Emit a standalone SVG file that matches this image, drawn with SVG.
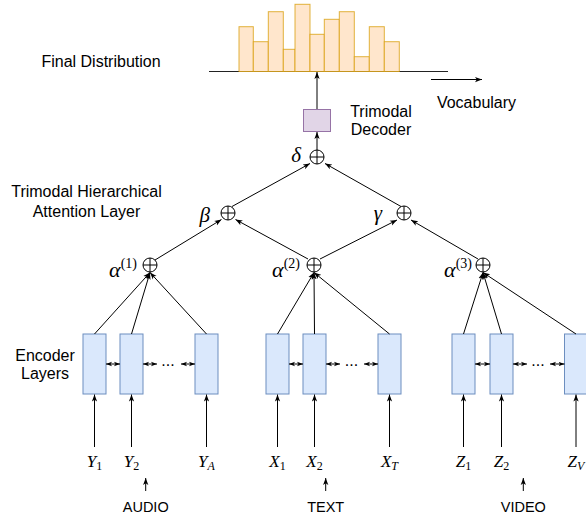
<svg xmlns="http://www.w3.org/2000/svg" width="586" height="519" viewBox="0 0 586 519">
<style>
.lbl{font-family:"Liberation Sans",Arial,sans-serif;font-size:16px;fill:#000}
.mod{font-family:"Liberation Sans",Arial,sans-serif;font-size:14.5px;fill:#000}
.math{font-family:"Liberation Serif","DejaVu Serif",serif;font-style:italic;fill:#000}
.sub{font-style:normal;font-size:12px}
.sup{font-style:normal;font-size:14px}
.bar{fill:#ffe6cc;stroke:#d79b00;stroke-opacity:.75;stroke-width:1}
.enc{fill:#dae8fc;stroke:#6c8ebf;stroke-width:1}
.dec{fill:#e1d5e7;stroke:#9673a6;stroke-width:1}
.op{fill:#fff;stroke:#000;stroke-width:1}
.cross{fill:none;stroke:#000;stroke-width:1}
.edge{fill:none;stroke:#000;stroke-width:1;marker-end:url(#ah)}
.bi{fill:none;stroke:#000;stroke-width:1;marker-end:url(#sh);marker-start:url(#sh)}
.plain{fill:none;stroke:#222;stroke-width:1}
</style>
<defs>
<marker id="ah" viewBox="0 0 8 8" refX="8" refY="4" markerWidth="7" markerHeight="7" markerUnits="userSpaceOnUse" orient="auto-start-reverse"><path d="M0,1 L8,4 L0,7 L2,4 Z" fill="#000"/></marker>
<marker id="sh" viewBox="0 0 8 8" refX="8" refY="4" markerWidth="6" markerHeight="6" markerUnits="userSpaceOnUse" orient="auto-start-reverse"><path d="M0,1 L8,4 L0,7 L2,4 Z" fill="#000"/></marker>
</defs>
<rect width="586" height="519" fill="#fff"/>

<g id="final-distribution">
<line class="plain" x1="209" y1="71.5" x2="448" y2="71.5"/>
<rect class="bar" x="239" y="26.7" width="14.3" height="44.8"/>
<rect class="bar" x="253.3" y="41.7" width="15" height="29.8"/>
<rect class="bar" x="268.3" y="11.7" width="15" height="59.8"/>
<rect class="bar" x="283.3" y="49.3" width="11.7" height="22.2"/>
<rect class="bar" x="295" y="4.3" width="15" height="67.2"/>
<rect class="bar" x="310" y="34.3" width="14.3" height="37.2"/>
<rect class="bar" x="324.3" y="19.3" width="15" height="52.2"/>
<rect class="bar" x="339.3" y="11.7" width="15" height="59.8"/>
<rect class="bar" x="354.3" y="56.7" width="15" height="14.8"/>
<rect class="bar" x="369.3" y="26.7" width="15" height="44.8"/>
<rect class="bar" x="384.3" y="41.7" width="15" height="29.8"/>
<text class="lbl" x="101" y="66.5" text-anchor="middle">Final Distribution</text>
<line class="edge" x1="431" y1="79.5" x2="482" y2="79.5"/>
<text class="lbl" x="476.5" y="108" text-anchor="middle">Vocabulary</text>
</g>

<g id="decoder">
<rect class="dec" x="303.5" y="109.5" width="27" height="22"/>
<text class="lbl" x="381" y="117" text-anchor="middle">Trimodal</text>
<text class="lbl" x="381" y="135" text-anchor="middle">Decoder</text>
</g>

<g id="delta">
<circle class="op" cx="317" cy="157" r="7"/>
<path class="cross" d="M310,157 H324 M317,150 V164"/>
<text class="math" x="301" y="162" font-size="21" text-anchor="end">δ</text>
</g>
<g id="beta">
<circle class="op" cx="228" cy="213" r="7"/>
<path class="cross" d="M221,213 H235 M228,206 V220"/>
<text class="math" x="210" y="222" font-size="21" text-anchor="end">β</text>
</g>
<g id="gamma">
<circle class="op" cx="404" cy="213" r="7"/>
<path class="cross" d="M397,213 H411 M404,206 V220"/>
<text class="math" x="382" y="220" font-size="21" text-anchor="end">γ</text>
</g>
<g id="alpha1">
<circle class="op" cx="150" cy="265" r="7"/>
<path class="cross" d="M143,265 H157 M150,258 V272"/>
<text class="math" x="137" y="277" font-size="22" text-anchor="end">α<tspan class="sup" dy="-9">(1)</tspan></text>
</g>
<g id="alpha2">
<circle class="op" cx="314" cy="265" r="7"/>
<path class="cross" d="M307,265 H321 M314,258 V272"/>
<text class="math" x="300" y="277" font-size="22" text-anchor="end">α<tspan class="sup" dy="-9">(2)</tspan></text>
</g>
<g id="alpha3">
<circle class="op" cx="483" cy="265" r="7"/>
<path class="cross" d="M476,265 H490 M483,258 V272"/>
<text class="math" x="472" y="277" font-size="22" text-anchor="end">α<tspan class="sup" dy="-9">(3)</tspan></text>
</g>

<g id="labels">
<text class="lbl" x="86.5" y="197" text-anchor="middle">Trimodal Hierarchical</text>
<text class="lbl" x="86.5" y="217" text-anchor="middle">Attention Layer</text>
<text class="lbl" x="45" y="361" text-anchor="middle">Encoder</text>
<text class="lbl" x="45" y="379" text-anchor="middle">Layers</text>
</g>

<g id="encoder-audio">
<rect class="enc" x="83" y="334" width="23" height="60"/>
<rect class="enc" x="120" y="334" width="23" height="60"/>
<rect class="enc" x="195" y="334" width="23" height="60"/>
<text class="lbl" x="168" y="366" font-size="11" text-anchor="middle">...</text>
</g>
<g id="encoder-text">
<rect class="enc" x="266" y="334" width="23" height="60"/>
<rect class="enc" x="303" y="334" width="23" height="60"/>
<rect class="enc" x="378" y="334" width="23" height="60"/>
<text class="lbl" x="351.5" y="366" font-size="11" text-anchor="middle">...</text>
</g>
<g id="encoder-video">
<rect class="enc" x="452" y="334" width="23" height="60"/>
<rect class="enc" x="490" y="334" width="23" height="60"/>
<rect class="enc" x="564.5" y="334" width="23" height="60"/>
<text class="lbl" x="538" y="366" font-size="11" text-anchor="middle">...</text>
</g>

<g id="inputs">
<text class="math" x="94.5" y="467" font-size="17" text-anchor="middle">Y<tspan class="sub" dy="3">1</tspan></text>
<text class="math" x="131.5" y="467" font-size="17" text-anchor="middle">Y<tspan class="sub" dy="3">2</tspan></text>
<text class="math" x="206.5" y="467" font-size="17" text-anchor="middle">Y<tspan font-size="12" dy="3">A</tspan></text>
<text class="math" x="277.5" y="467" font-size="17" text-anchor="middle">X<tspan class="sub" dy="3">1</tspan></text>
<text class="math" x="314.5" y="467" font-size="17" text-anchor="middle">X<tspan class="sub" dy="3">2</tspan></text>
<text class="math" x="389.5" y="467" font-size="17" text-anchor="middle">X<tspan font-size="12" dy="3">T</tspan></text>
<text class="math" x="463.5" y="467" font-size="17" text-anchor="middle">Z<tspan class="sub" dy="3">1</tspan></text>
<text class="math" x="501.5" y="467" font-size="17" text-anchor="middle">Z<tspan class="sub" dy="3">2</tspan></text>
<text class="math" x="576" y="467" font-size="17" text-anchor="middle">Z<tspan font-size="12" dy="3">V</tspan></text>
<text class="mod" x="145.7" y="512" text-anchor="middle">AUDIO</text>
<text class="mod" x="325.7" y="512" text-anchor="middle">TEXT</text>
<text class="mod" x="523.3" y="512" text-anchor="middle">VIDEO</text>
</g>

<g id="connectors">
<line class="edge" x1="317" y1="109" x2="317" y2="72"/>
<line class="edge" x1="317" y1="150" x2="317" y2="132"/>
<line class="edge" x1="232" y1="206.5" x2="310" y2="163.5"/>
<line class="edge" x1="401" y1="206.5" x2="325" y2="163.5"/>
<line class="edge" x1="155" y1="260" x2="221.5" y2="219.5"/>
<line class="edge" x1="308" y1="259" x2="235.5" y2="219.5"/>
<line class="edge" x1="320" y1="259" x2="397" y2="220"/>
<line class="edge" x1="478" y1="259" x2="411" y2="220"/>
<line class="edge" x1="94.5" y1="334" x2="150" y2="272.5"/>
<line class="edge" x1="131.5" y1="334" x2="150" y2="272.5"/>
<line class="edge" x1="206.5" y1="334" x2="150" y2="272.5"/>
<line class="edge" x1="277.5" y1="334" x2="314" y2="272.5"/>
<line class="edge" x1="314.5" y1="334" x2="314" y2="272.5"/>
<line class="edge" x1="389.5" y1="334" x2="314" y2="272.5"/>
<line class="edge" x1="463.5" y1="334" x2="483" y2="272.5"/>
<line class="edge" x1="501.5" y1="334" x2="483" y2="272.5"/>
<line class="edge" x1="576" y1="334" x2="483" y2="272.5"/>
<line class="bi" x1="106" y1="364" x2="120" y2="364"/>
<line class="bi" x1="143" y1="364" x2="157" y2="364"/>
<line class="bi" x1="181" y1="364" x2="195" y2="364"/>
<line class="bi" x1="289" y1="364" x2="303" y2="364"/>
<line class="bi" x1="326" y1="364" x2="340" y2="364"/>
<line class="bi" x1="364" y1="364" x2="378" y2="364"/>
<line class="bi" x1="475" y1="364" x2="490" y2="364"/>
<line class="bi" x1="513" y1="364" x2="527" y2="364"/>
<line class="bi" x1="550" y1="364" x2="564.5" y2="364"/>
<line class="edge" x1="94.5" y1="447" x2="94.5" y2="394.5"/>
<line class="edge" x1="131.5" y1="447" x2="131.5" y2="394.5"/>
<line class="edge" x1="206.5" y1="447" x2="206.5" y2="394.5"/>
<line class="edge" x1="277.5" y1="447" x2="277.5" y2="394.5"/>
<line class="edge" x1="314.5" y1="447" x2="314.5" y2="394.5"/>
<line class="edge" x1="389.5" y1="447" x2="389.5" y2="394.5"/>
<line class="edge" x1="463.5" y1="447" x2="463.5" y2="394.5"/>
<line class="edge" x1="501.5" y1="447" x2="501.5" y2="394.5"/>
<line class="edge" x1="576" y1="447" x2="576" y2="394.5"/>
<line class="edge" x1="145.7" y1="491" x2="145.7" y2="478"/>
<line class="edge" x1="325.7" y1="491" x2="325.7" y2="478"/>
<line class="edge" x1="523.3" y1="491" x2="523.3" y2="478"/>
</g>
</svg>
